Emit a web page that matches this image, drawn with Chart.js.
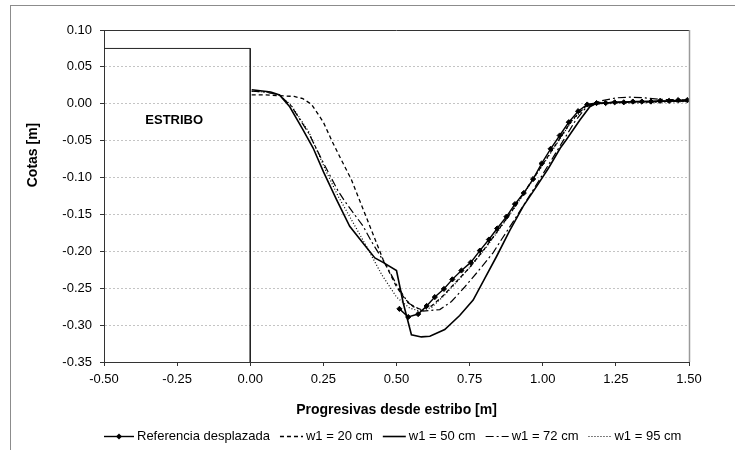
<!DOCTYPE html>
<html>
<head>
<meta charset="utf-8">
<script src="https://cdn.jsdelivr.net/npm/chart.js@4"></script>
<style>
  body { margin: 0; background: #fff; }
  canvas { display: block; }
</style>
</head>
<body>
<canvas id="myChart" width="735" height="450"></canvas>
<script>
// ticks
const xTicks = [-0.5, -0.25, 0, 0.25, 0.5, 0.75, 1.0, 1.25, 1.5];
const yTicks = [-0.35, -0.3, -0.25, -0.2, -0.15, -0.1, -0.05, 0, 0.05, 0.1];

// estribo outline
const estriboX = [-0.5, 0, 0];
const estriboY = [0.075, 0.075, -0.35];

// Referencia desplazada
const refX = [0.51, 0.54, 0.574, 0.603, 0.631, 0.662, 0.691, 0.722, 0.754, 0.785, 0.816, 0.844, 0.876, 0.905, 0.935, 0.967, 0.996, 1.027, 1.058, 1.089, 1.121, 1.152, 1.184, 1.215, 1.246, 1.277, 1.308, 1.339, 1.37, 1.401, 1.432, 1.463, 1.494];
const refY = [-0.278, -0.289, -0.285, -0.274, -0.262, -0.251, -0.238, -0.226, -0.215, -0.199, -0.184, -0.169, -0.153, -0.136, -0.121, -0.102, -0.081, -0.061, -0.043, -0.025, -0.01, -0.001, 0.001, 0.001, 0.002, 0.002, 0.003, 0.003, 0.003, 0.004, 0.004, 0.005, 0.005];

// w1 = 20 cm
const w20X = [0.005, 0.05, 0.1, 0.15, 0.18, 0.21, 0.25, 0.28, 0.31, 0.346, 0.4, 0.454, 0.5, 0.53, 0.557, 0.585, 0.62, 0.66, 0.7, 0.75, 0.8, 0.85, 0.9, 0.95, 1.0, 1.05, 1.1, 1.15, 1.2, 1.3, 1.4, 1.5];
const w20Y = [0.012, 0.012, 0.011, 0.01, 0.007, -0.001, -0.025, -0.051, -0.075, -0.103, -0.157, -0.211, -0.248, -0.265, -0.275, -0.279, -0.274, -0.26, -0.243, -0.222, -0.197, -0.17, -0.142, -0.112, -0.082, -0.052, -0.022, -0.002, 0.002, 0.002, 0.003, 0.004];

// w1 = 50 cm
const w50X = [0.005, 0.07, 0.1, 0.135, 0.18, 0.215, 0.25, 0.295, 0.34, 0.386, 0.426, 0.454, 0.5, 0.523, 0.551, 0.585, 0.614, 0.665, 0.716, 0.762, 0.8, 0.842, 0.887, 0.933, 0.979, 1.02, 1.06, 1.08, 1.127, 1.161, 1.18, 1.25, 1.35, 1.5];
const w50Y = [0.019, 0.016, 0.012, -0.004, -0.035, -0.06, -0.092, -0.13, -0.166, -0.189, -0.209, -0.215, -0.226, -0.27, -0.313, -0.316, -0.315, -0.306, -0.287, -0.266, -0.238, -0.207, -0.172, -0.139, -0.112, -0.087, -0.06, -0.049, -0.022, -0.004, 0.0, 0.002, 0.003, 0.004];

// w1 = 72 cm
const w72X = [0.005, 0.05, 0.1, 0.14, 0.2, 0.25, 0.3, 0.323, 0.386, 0.415, 0.466, 0.5, 0.54, 0.59, 0.648, 0.688, 0.734, 0.779, 0.83, 0.859, 0.91, 0.967, 1.024, 1.07, 1.11, 1.15, 1.2, 1.25, 1.3, 1.35, 1.4, 1.5];
const w72Y = [0.017, 0.016, 0.012, -0.003, -0.04, -0.08, -0.118, -0.132, -0.166, -0.187, -0.22, -0.245, -0.27, -0.281, -0.279, -0.268, -0.248, -0.227, -0.202, -0.184, -0.153, -0.117, -0.08, -0.05, -0.024, -0.004, 0.004, 0.008, 0.009, 0.008, 0.006, 0.005];

// w1 = 95 cm
const w95X = [0.005, 0.05, 0.1, 0.14, 0.2, 0.26, 0.3, 0.34, 0.397, 0.45, 0.5, 0.545, 0.58, 0.62, 0.66, 0.7, 0.75, 0.8, 0.85, 0.9, 0.95, 1.0, 1.05, 1.1, 1.15, 1.2, 1.3, 1.4, 1.5];
const w95Y = [0.017, 0.016, 0.012, -0.002, -0.038, -0.092, -0.125, -0.153, -0.193, -0.232, -0.262, -0.277, -0.281, -0.276, -0.261, -0.244, -0.222, -0.198, -0.171, -0.143, -0.113, -0.083, -0.053, -0.023, -0.003, 0.0, 0.001, 0.002, 0.003];

const toPoints = (xs, ys) => xs.map((x, i) => ({ x: x, y: ys[i] }));

const FONT = "'Liberation Sans', Arial, sans-serif";

const series = [
  { label: "Referencia desplazada", xs: refX, ys: refY, dash: [], width: 1.4, marker: true },
  { label: "w1 = 20 cm", xs: w20X, ys: w20Y, dash: [4, 3], width: 1.3 },
  { label: "w1 = 50 cm", xs: w50X, ys: w50Y, dash: [], width: 1.6 },
  { label: "w1 = 72 cm", xs: w72X, ys: w72Y, dash: [8, 3, 2, 3], width: 1.2 },
  { label: "w1 = 95 cm", xs: w95X, ys: w95Y, dash: [1, 2], width: 1.2 },
];

const datasets = [
  {
    label: "estribo",
    data: toPoints(estriboX, estriboY),
    borderColor: "#222",
    borderWidth: 1,
    pointRadius: 0,
    tension: 0,
  },
];
for (let s of series) {
  datasets.push({
    label: s.label,
    data: toPoints(s.xs, s.ys),
    borderColor: "#000",
    backgroundColor: "#000",
    borderWidth: s.width,
    borderDash: s.dash,
    pointRadius: s.marker ? 2.6 : 0,
    pointBorderWidth: 1,
    pointStyle: "rectRot",
    tension: 0,
  });
}

// frame, texts and legend
const extras = {
  id: "extras",
  afterDraw(chart) {
    const ctx = chart.ctx;
    const a = chart.chartArea;
    const xs = chart.scales.x;
    const ys = chart.scales.y;
    ctx.save();

    // outer chart border
    ctx.strokeStyle = "#8c8c8c";
    ctx.lineWidth = 1;
    ctx.strokeRect(10.5, 5.5, 800, 500);

    // plot frame top and right
    ctx.beginPath();
    ctx.strokeStyle = "#333";
    ctx.moveTo(a.left, a.top + 0.5);
    ctx.lineTo(a.right, a.top + 0.5);
    ctx.stroke();
    ctx.beginPath();
    ctx.strokeStyle = "#9a9a9a";
    ctx.lineWidth = 1.5;
    ctx.moveTo(a.right + 0.5, a.top);
    ctx.lineTo(a.right + 0.5, a.bottom);
    ctx.stroke();

    ctx.fillStyle = "#000";
    ctx.textAlign = "center";
    ctx.textBaseline = "middle";

    // ESTRIBO label
    ctx.font = "bold 13px " + FONT;
    ctx.fillText("ESTRIBO", xs.getPixelForValue(-0.26), ys.getPixelForValue(-0.023));

    // axis titles
    ctx.font = "bold 14px " + FONT;
    ctx.fillText("Progresivas desde estribo [m]", (a.left + a.right) / 2, 410);
    ctx.save();
    ctx.translate(33, 155);
    ctx.rotate(-Math.PI / 2);
    ctx.fillText("Cotas [m]", 0, 0);
    ctx.restore();

    // legend
    ctx.font = "13px " + FONT;
    ctx.textAlign = "left";
    let lx = 104;
    const ly = 436.5;
    series.forEach((s, i) => {
      const len = i == 0 ? 30 : 23;
      ctx.beginPath();
      ctx.setLineDash(s.dash);
      ctx.lineWidth = s.width;
      ctx.strokeStyle = "#000";
      ctx.moveTo(lx, ly);
      ctx.lineTo(lx + len, ly);
      ctx.stroke();
      ctx.setLineDash([]);
      if (s.marker) {
        const cx = lx + len / 2;
        ctx.beginPath();
        ctx.moveTo(cx, ly - 3);
        ctx.lineTo(cx + 3, ly);
        ctx.lineTo(cx, ly + 3);
        ctx.lineTo(cx - 3, ly);
        ctx.closePath();
        ctx.fill();
      }
      lx += len + 3;
      ctx.fillText(s.label, lx, ly);
      lx += ctx.measureText(s.label).width + 10;
    });

    ctx.restore();
  },
};

const fmt = (v) => (Math.abs(v) < 1e-9 ? 0 : v).toFixed(2);

new Chart(document.getElementById("myChart").getContext("2d"), {
  type: "line",
  data: { datasets: datasets },
  plugins: [extras],
  options: {
    responsive: false,
    animation: false,
    devicePixelRatio: 1,
    layout: { padding: { left: 10, right: 46, top: 30, bottom: 26 } },
    plugins: {
      legend: { display: false },
      tooltip: { enabled: false },
    },
    scales: {
      x: {
        type: "linear",
        min: -0.5,
        max: 1.5,
        afterBuildTicks: (scale) => {
          scale.ticks = xTicks.map((v) => ({ value: v }));
        },
        afterFit: (scale) => {
          scale.height = 62;
        },
        ticks: {
          callback: fmt,
          color: "#000",
          font: { family: FONT, size: 13 },
          padding: 6,
          maxRotation: 0,
        },
        grid: {
          drawOnChartArea: false,
          drawTicks: true,
          tickLength: 4,
          tickColor: "#333",
        },
        border: { color: "#333", width: 1 },
      },
      y: {
        type: "linear",
        min: -0.35,
        max: 0.1,
        afterBuildTicks: (scale) => {
          scale.ticks = yTicks.map((v) => ({ value: v }));
        },
        afterFit: (scale) => {
          scale.width = 94;
        },
        ticks: {
          callback: fmt,
          color: "#000",
          font: { family: FONT, size: 13 },
          padding: 8,
        },
        grid: {
          color: "#c4c4c4",
          lineWidth: 1,
          drawTicks: true,
          tickLength: 4,
          tickColor: "#333",
          tickBorderDash: [],
        },
        border: { color: "#333", width: 1, dash: [2, 2] },
      },
    },
  },
});
</script>
</body>
</html>
